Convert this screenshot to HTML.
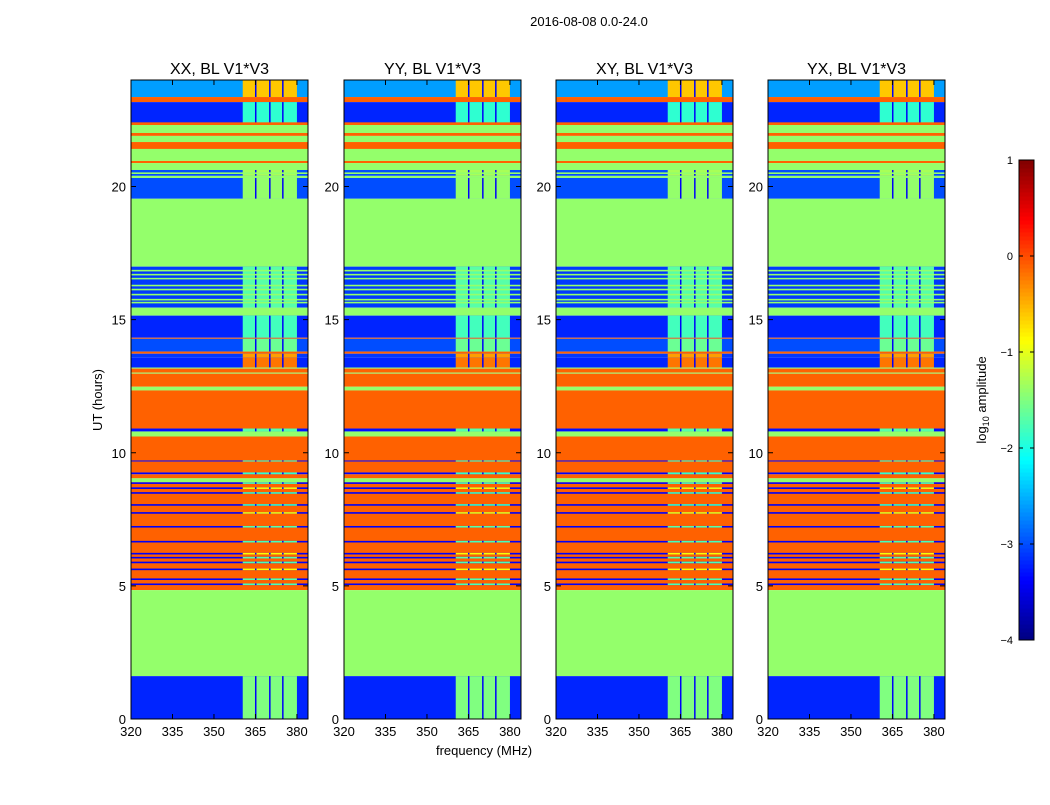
<!DOCTYPE html>
<html><head><meta charset="utf-8"><style>
body{margin:0;background:#fff;font-family:"Liberation Sans",sans-serif}
svg text{font-family:"Liberation Sans",sans-serif}
</style></head><body>
<svg id="c" width="1050" height="800" xmlns="http://www.w3.org/2000/svg">
<rect width="1050" height="800" fill="#fff"/>
<text x="589" y="26" font-size="13" text-anchor="middle">2016-08-08 0.0-24.0</text>
<text transform="translate(102,400) rotate(-90)" font-size="13" text-anchor="middle">UT (hours)</text>
<text x="484" y="755" font-size="13" text-anchor="middle">frequency (MHz)</text>
<g id="panels"></g>
<g id="cbar"></g>
</svg>
<script>
// band data: [startHour, endHour], base log amplitude, column log amplitude (360-380 MHz)
const bandStart=[23.36,23.17,22.38,22.31,22.01,21.90,21.67,21.41,20.96,20.88,20.62,20.40,20.32,19.54,16.99,15.45,15.15,14.32,14.28,13.80,13.72,13.57,13.20,13.16,13.01,12.97,12.48,12.34,10.91,10.80,10.61,9.71,9.67,9.26,9.19,9.04,8.89,4.84,1.61,0.0];
const bandEnd  =[24.00,23.36,23.17,22.38,22.31,22.01,21.90,21.67,21.41,20.96,20.88,20.62,20.40,20.32,19.54,16.99,15.45,15.15,14.32,14.28,13.80,13.72,13.57,13.20,13.16,13.01,12.97,12.48,12.34,10.91,10.80,10.61,9.71,9.67,9.26,9.19,9.04,8.89,4.84,1.61];
const baseVal  =[-2.6,-0.1,-3.2,-0.1,-1.4,-0.1,-1.4,-0.1,-1.4,-0.1,-1.4,-3.0,-1.4,-3.0,-1.4,-3.1,-1.4,-3.2,-0.1,-3.0,-0.1,-3.1,-3.2,-1.4,-0.1,-1.4,-0.1,-1.4,-0.1,-3.3,-1.4,-0.1,-3.4,-0.1,-3.4,-0.1,-1.4,-0.1,-1.4,-3.2];
const colVal   =[-0.6,-0.1,-1.9,-0.1,-1.4,-0.1,-1.4,-0.1,-1.4,-0.1,-1.4,-1.3,-1.4,-1.4,-1.4,-1.7,-1.4,-1.8,-0.1,-1.6,-0.1,-0.4,-0.2,-1.4,-0.1,-1.4,-0.1,-1.4,-0.1,-1.7,-1.4,-0.1,-1.9,-0.1,-1.9,-0.1,-1.4,-0.1,-1.4,-1.5];
// thin lines inside larger bands: hour, value, column value
const lineHour=[16.84,16.69,16.54,16.28,16.13,15.94,15.75,15.64,8.86,8.67,8.49,8.04,7.74,7.22,6.66,6.21,6.06,5.88,5.62,5.25,5.06,22.38,20.50];
const lineVal =[-1.4,-1.4,-1.4,-1.4,-1.4,-1.4,-1.4,-1.4,-3.4,-3.4,-3.4,-3.4,-3.4,-3.4,-3.4,-3.4,-3.4,-3.4,-3.4,-3.4,-3.4,-0.1,-1.4];
const lineCol =[-1.4,-1.4,-1.4,-1.4,-1.4,-1.4,-1.4,-1.4,-1.7,-0.9,-1.7,-1.8,-0.9,-1.7,-1.8,-0.9,-1.7,-1.8,-0.9,-1.7,-1.8,-0.1,-1.4];
const colGaps=[365.1,370.2,374.9];
const colRange=[360.4,380.0];
const panelTitles=["XX, BL V1*V3","YY, BL V1*V3","XY, BL V1*V3","YX, BL V1*V3"];
const panelLeft=[131,344,556,768];
const xTicks=[320,335,350,365,380];
const yTicks=[0,5,10,15,20];
const cbTicks=[1,0,-1,-2,-3,-4];

const NS="http://www.w3.org/2000/svg";
function jet(v){let x=(v+4)/5;x=Math.max(0,Math.min(1,x));
 const c=t=>Math.round(255*Math.max(0,Math.min(1,t)));
 return `rgb(${c(1.5-Math.abs(4*x-3))},${c(1.5-Math.abs(4*x-2))},${c(1.5-Math.abs(4*x-1))})`;}
function mk(tag,at,parent){const e=document.createElementNS(NS,tag);for(const k in at)e.setAttribute(k,at[k]);parent.appendChild(e);return e;}
const top0=80,bot0=719,pw=177;
const yS=h=>bot0-(h/24)*(bot0-top0);
const panels=document.getElementById('panels');
panelLeft.forEach((L,pi)=>{
 const xS=f=>L+(f-320)/64*pw;
 const g=mk('g',{},panels);
 
 
 const drawBand=(h0,h1,b,cv)=>{
  const y1=yS(h1),y0=yS(h0),hh=Math.max(1,y0-y1);
  const r=mk('rect',{x:L,y:y1,width:pw,height:hh,fill:jet(b)},g);
  
  if(cv!==b){
   const cr=mk('rect',{x:xS(colRange[0]),y:y1,width:xS(colRange[1])-xS(colRange[0]),height:hh,fill:jet(cv)},g);
   
   colGaps.forEach(f=>{const gr=mk('rect',{x:xS(f)-0.75,y:y1,width:1.5,height:hh,fill:jet(-3.4)},g);
    });
  }
 };
 bandStart.forEach((s,i)=>drawBand(s,bandEnd[i],baseVal[i],colVal[i]));
 lineHour.forEach((h,i)=>drawBand(h-0.03,h+0.03,lineVal[i],lineCol[i]));
 mk('rect',{x:L,y:top0,width:pw,height:bot0-top0,fill:'none',stroke:'#000','stroke-width':1},g);
 const t=mk('text',{x:L+pw/2,y:74,'font-size':16,'text-anchor':'middle'},g);t.textContent=panelTitles[pi];
 
 xTicks.forEach(v=>{const x=xS(v);
  mk('line',{x1:x,x2:x,y1:bot0,y2:bot0-5,stroke:'#000'},g);mk('line',{x1:x,x2:x,y1:top0,y2:top0+5,stroke:'#000'},g);
  const tx=mk('text',{x:x,y:bot0+17,'font-size':13,'text-anchor':'middle'},g);tx.textContent=v;
  });
 yTicks.forEach(v=>{const y=yS(v);
  mk('line',{x1:L,x2:L+5,y1:y,y2:y,stroke:'#000'},g);mk('line',{x1:L+pw,x2:L+pw-5,y1:y,y2:y,stroke:'#000'},g);
  const ty=mk('text',{x:L-5,y:y+5,'font-size':13,'text-anchor':'end'},g);ty.textContent=v;
  });
});
// colorbar
const cb=document.getElementById('cbar');

const cbX=1019,cbW=15,cbT=160,cbB=640;
for(let i=0;i<120;i++){const v=-4+5*(i+0.5)/120;
 mk('rect',{x:cbX,y:cbB-(i+1)*4,width:cbW,height:4.5,fill:jet(v)},cb);}
mk('rect',{x:cbX,y:cbT,width:cbW,height:cbB-cbT,fill:'none',stroke:'#000'},cb);
cbTicks.forEach(v=>{const y=cbB-(v+4)/5*(cbB-cbT);
 mk('line',{x1:cbX,x2:cbX+4,y1:y,y2:y,stroke:'#000'},cb);mk('line',{x1:cbX+cbW,x2:cbX+cbW-4,y1:y,y2:y,stroke:'#000'},cb);
 const t=mk('text',{x:1013,y:y+4,'font-size':11,'text-anchor':'end'},cb);t.textContent=v<0?'\u2212'+(-v):v;
 });
const cl=mk('text',{transform:'translate(986,400) rotate(-90)','font-size':13,'text-anchor':'middle'},cb);
cl.innerHTML='log<tspan font-size="9" dy="3">10</tspan><tspan dy="-3"> amplitude</tspan>';

</script>
</body></html>
